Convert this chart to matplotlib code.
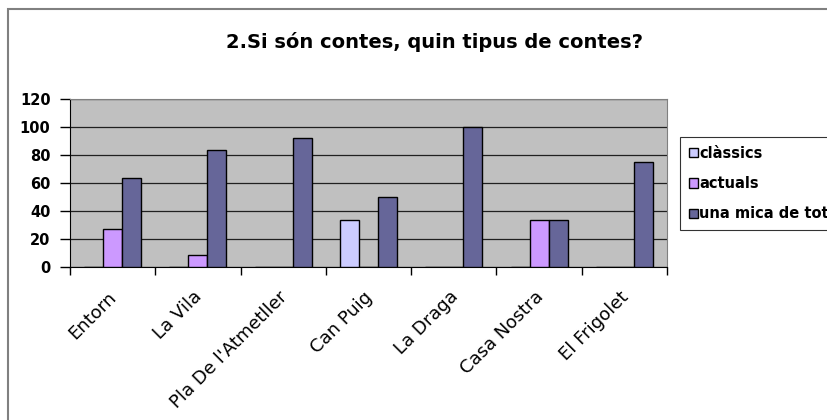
import matplotlib.pyplot as plt
from matplotlib.patches import Rectangle
import numpy as np

plt.rcParams['font.family'] = ['DejaVu Sans']

# dades
escoles = ['Entorn', 'La Vila', "Pla De l'Atmetller", 'Can Puig', 'La Draga',
           'Casa Nostra', 'El Frigolet']
classics = [0, 0, 0, 33.3, 0, 0, 0]
actuals = [27.3, 8.3, 0, 0, 0, 33.3, 0]
una_mica = [63.6, 83.3, 92.3, 50, 100, 33.3, 75]
series = ['clàssics', 'actuals', 'una mica de tot']
colors = ['#CCCCFF', '#CC99FF', '#666699']

fig = plt.figure(figsize=(8.27, 4.2), dpi=100)
ax = fig.add_axes([70 / 827, 1 - 267 / 420, 597 / 827, 168 / 420])
ax.set_facecolor('#C0C0C0')

x = np.arange(len(escoles))
w = 0.223
for i, (vals, lab, c) in enumerate(zip([classics, actuals, una_mica], series, colors)):
    ax.bar(x + (i - 1) * w, vals, w, color=c, edgecolor='black', linewidth=1,
           label=lab, zorder=3)

ax.set_xlim(-0.5, len(escoles) - 0.5)
ax.set_ylim(0, 120)
ax.set_yticks(range(0, 121, 20))
ax.yaxis.grid(True, color='#202020', linewidth=0.9, zorder=0)
ax.tick_params(axis='y', labelsize=10.5, length=7, width=1, pad=7)
for t in ax.get_yticklabels():
    t.set_fontweight('bold')

# marques entre categories
ax.set_xticks(np.arange(-0.5, len(escoles), 1), minor=False)
ax.set_xticklabels([])
ax.set_xticks(x - 0.06, minor=True)
ax.set_xticklabels(escoles, minor=True, rotation=45, ha='right',
                   rotation_mode='anchor', fontsize=13)
ax.tick_params(axis='x', which='major', length=6, width=1, color='black')
ax.tick_params(axis='x', which='minor', length=0, pad=15)

for s in ['top', 'right']:
    ax.spines[s].set_color('#808080')
for s in ['left', 'bottom']:
    ax.spines[s].set_color('black')

fig.text(435 / 827, 1 - 42 / 420, '2.Si són contes, quin tipus de contes?',
         ha='center', va='center', fontsize=14, fontweight='bold')

leg = fig.legend(loc='upper left', bbox_to_anchor=(680 / 827, 1 - 137 / 420),
                 prop={'size': 10.5, 'weight': 'bold'}, frameon=True, fancybox=False,
                 edgecolor='black', handlelength=0.6, handleheight=0.6,
                 handletextpad=0.1, labelspacing=1.05, borderpad=0.6, borderaxespad=0)
leg.get_frame().set_linewidth(0.8)
leg._legend_box.sep = 0
leg.borderpad = 0.6

fig.add_artist(Rectangle((8 / 827, -0.1), 1.2, 1.1 - 9 / 420, transform=fig.transFigure,
                         fill=False, edgecolor='#808080', linewidth=1.5))

fig.savefig('out.png', dpi=100)
